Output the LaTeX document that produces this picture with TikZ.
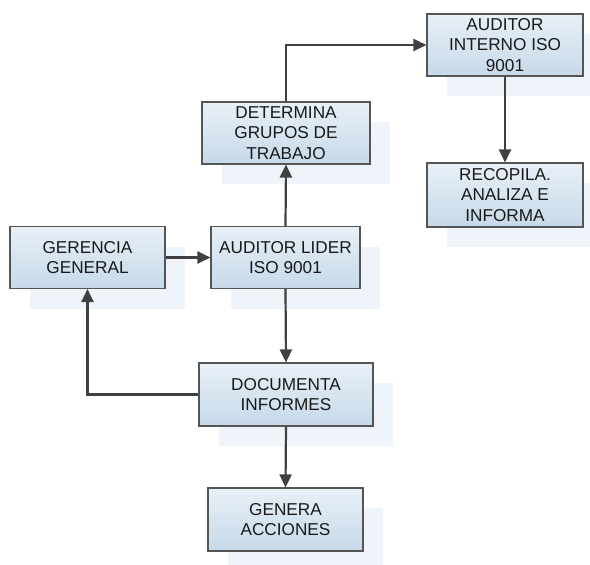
\documentclass[tikz,border=0pt]{standalone}
\usepackage{fontspec}
\setmainfont{Liberation Sans}
\usetikzlibrary{arrows.meta,shadows}
\definecolor{boxtop}{HTML}{E8F0F7}
\definecolor{boxbot}{HTML}{C6D9E9}
\definecolor{boxline}{HTML}{555555}
\definecolor{shadowc}{HTML}{EEF4F9}
\definecolor{linkc}{HTML}{404040}
\begin{document}
\begin{tikzpicture}[x=1pt,y=-1pt,
  procbox/.style={draw=boxline, line width=1.1pt, top color=boxtop, bottom color=boxbot,
    minimum height=62pt, inner sep=0pt, align=center, text=black!90,
    font=\fontsize{17.2}{20.5}\selectfont,
    general shadow={fill=shadowc, shadow xshift=20pt, shadow yshift=-20pt}},
  link/.style={draw=linkc, line width=2.2pt, -{Triangle[length=13pt,width=12pt]}}]
  \useasboundingbox (0,0) rectangle (590,565);

  % process boxes
  \node[procbox, minimum width=155pt] (ger) at (87.5,257.5) {GERENCIA\\GENERAL};
  \node[procbox, minimum width=149pt] (lid) at (285.5,257.5) {AUDITOR LIDER\\ISO 9001};
  \node[procbox, minimum width=168pt] (det) at (286,133) {DETERMINA\\GRUPOS DE\\TRABAJO};
  \node[procbox, minimum width=156pt] (int) at (505,45) {AUDITOR\\INTERNO ISO\\9001};
  \node[procbox, minimum width=156pt, minimum height=64pt] (rec) at (505,195) {RECOPILA.\\ANALIZA E\\INFORMA};
  \node[procbox, minimum width=174pt, minimum height=63pt] (doc) at (286,394.5) {DOCUMENTA\\INFORMES};
  \node[procbox, minimum width=155pt, minimum height=63pt] (gen) at (285.5,519.5) {GENERA\\ACCIONES};

  % connectors
  \draw[link] (ger.east) -- (lid.west);
  \draw[link] (lid.north) -- (det.south);
  \draw[link] (det.north) |- (int.west);
  \draw[link] (int.south) -- (rec.north);
  \draw[link] (lid.south) -- (doc.north);
  \draw[link] (doc.west) -| (ger.south);
  \draw[link] (doc.south) -- (gen.north);
\end{tikzpicture}
\end{document}
